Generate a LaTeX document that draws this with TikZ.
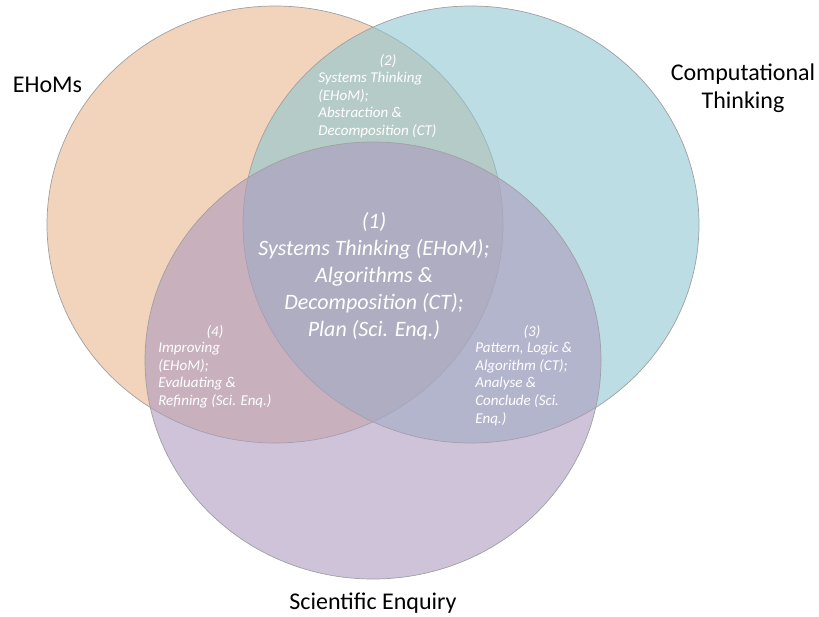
\documentclass[tikz,border=0pt]{standalone}
\usepackage{fontspec}
\setmainfont{Carlito}
\usetikzlibrary{positioning}

\definecolor{ehomfill}{RGB}{233,182,143}
\definecolor{ctfill}{RGB}{142,198,208}
\definecolor{scifill}{RGB}{173,155,190}
\definecolor{rim}{RGB}{160,160,160}

\begin{document}
\begin{tikzpicture}[x=1pt,y=-1pt,
  every path/.append style={line width=0.7pt},
  set/.style={draw=rim,fill opacity=0.6},
  title/.style={font=\fontsize{24}{28}\selectfont,text=black,align=center,inner sep=0pt},
  bigtxt/.style={font=\fontsize{22}{27}\selectfont\itshape,text=white,align=center,inner sep=0pt},
  smalltxt/.style={font=\fontsize{15}{17.6}\selectfont\itshape,text=white,align=left,inner sep=0pt,anchor=north west},
  numtxt/.style={font=\fontsize{15}{17.6}\selectfont\itshape,text=white,inner sep=0pt}]
			\useasboundingbox (0,0) rectangle (819,616);
			% the three sets
			\draw [set,fill=ehomfill] (275,224.5) ellipse [x radius=228pt, y radius=218.5pt];
			\draw [set,fill=ctfill]   (471,224.5) ellipse [x radius=228pt, y radius=218.5pt];
			\draw [set,fill=scifill]  (373,360.5) ellipse [x radius=228pt, y radius=218.5pt];
			% set names
			\node (ehom) at (47.5, 85) [title] {EHoMs};
			\node (ct)   at (743, 88)  [title] {Computational\\Thinking};
			\node (sci)  at (373, 603) [title] {Scientific Enquiry};
			% overlaps
			\node (all)  at (374, 276) [bigtxt] {(1)\\Systems Thinking (EHoM);\\Algorithms \&\\Decomposition (CT);\\Plan (Sci. Enq.)};
			\node (n2)   at (388, 61)  [numtxt] {(2)};
			\node (ehomct) at (318, 72) [smalltxt] {Systems Thinking\\(EHoM);\\Abstraction \&\\Decomposition (CT)};
			\node (n3)   at (532, 332) [numtxt] {(3)};
			\node (ctsci) at (475, 342) [smalltxt] {Pattern, Logic \&\\Algorithm (CT);\\Analyse \&\\Conclude (Sci.\\Enq.)};
			\node (n4)   at (215, 332) [numtxt] {(4)};
			\node (ehomsci) at (158, 342) [smalltxt] {Improving\\(EHoM);\\Evaluating \&\\Refining (Sci. Enq.)};
\end{tikzpicture}
\end{document}
